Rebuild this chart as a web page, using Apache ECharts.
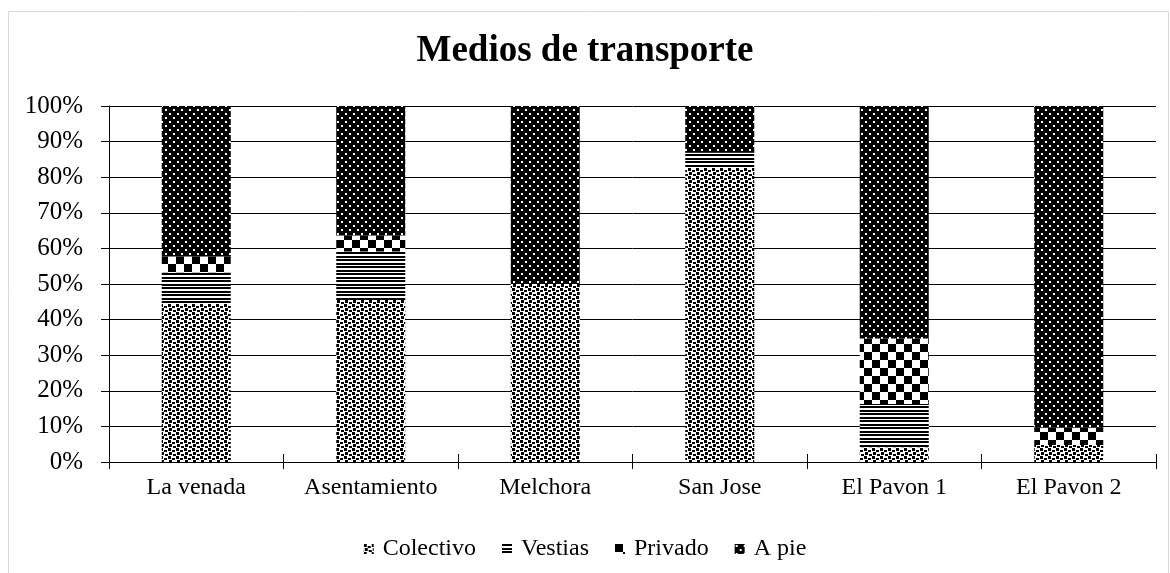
<!DOCTYPE html>
<html>
<head>
<meta charset="utf-8">
<script src="https://cdn.jsdelivr.net/npm/echarts@6/dist/echarts.min.js"></script>
<style>
html,body{margin:0;padding:0;background:#fff;}
#c{width:1170px;height:573px;}
</style>
</head>
<body>
<div id="c"></div>
<script>
const categories = ['La venada', 'Asentamiento', 'Melchora', 'San Jose', 'El Pavon 1', 'El Pavon 2'];
const colectivo = [44.4, 45.5, 50.0, 82.6, 4.1, 4.8];
const vestias   = [8.9, 13.6, 0, 4.3, 12.2, 0];
const privado   = [4.4, 4.5, 0, 0, 18.4, 4.8];
const aPie      = [42.3, 36.4, 50.0, 13.1, 65.3, 90.4];
const seriesNames = ['Colectivo', 'Vestias', 'Privado', 'A pie'];
const yTicks = [0, 10, 20, 30, 40, 50, 60, 70, 80, 90, 100];

function tile(w, h, bg, fg, rects) {
  const c = document.createElement('canvas');
  c.width = w; c.height = h;
  const ctx = c.getContext('2d');
  ctx.fillStyle = bg; ctx.fillRect(0, 0, w, h);
  ctx.fillStyle = fg;
  rects.forEach(r => ctx.fillRect(r[0], r[1], r[2], r[3]));
  return { image: c, repeat: 'repeat' };
}
const patColectivo = tile(8, 8, '#fff', '#000', [[0,0,3,3],[4,2,3,2],[1,4,3,3],[5,6,3,2]]);
const patVestias = tile(8, 7, '#fff', '#000', [[0,0,8,2],[0,4,8,2]]);
const patPrivado = tile(16, 16, '#fff', '#000', [[0,0,8,8],[8,8,8,8]]);
const patAPie = tile(8, 8, '#000', '#fff', [[1,1,2,2],[5,5,2,2]]);
const pats = [patColectivo, patVestias, patPrivado, patAPie];
const datas = [colectivo, vestias, privado, aPie];

const FONT = 'Liberation Serif';
const chart = echarts.init(document.getElementById('c'), null, {renderer: 'canvas'});
chart.setOption({
  backgroundColor: '#fff',
  animation: false,
  graphic: [{
    type: 'rect', left: 6, top: 9, silent: true,
    shape: {width: 1160, height: 620},
    style: {fill: 'none', stroke: '#d9d9d9', lineWidth: 1}
  }],
  title: {
    text: 'Medios de transporte',
    left: 'center', top: 28,
    textStyle: {fontFamily: FONT, fontWeight: 'bold', fontSize: 37, color: '#000'}
  },
  legend: {
    data: seriesNames,
    left: 'center', top: 532,
    icon: 'rect', itemWidth: 10, itemHeight: 10, itemGap: 26,
    textStyle: {fontFamily: FONT, fontSize: 24, color: '#000', padding: [0, 0, 0, 4]}
  },
  grid: {left: 109, right: 14, top: 106, bottom: 111, containLabel: false},
  xAxis: [{
    type: 'category', data: categories,
    axisLine: {lineStyle: {color: '#000', width: 1}},
    axisTick: {show: true, interval: 0, length: 7, lineStyle: {color: '#000'}},
    axisLabel: {interval: 0, hideOverlap: false, fontFamily: FONT, fontSize: 24, color: '#000', margin: 14}
  }, {
    type: 'category', data: categories, position: 'bottom',
    axisLine: {show: false},
    axisTick: {show: true, interval: 0, inside: true, length: 8, lineStyle: {color: '#000'}},
    axisLabel: {show: false}
  }],
  yAxis: {
    type: 'value', min: yTicks[0], max: yTicks[yTicks.length - 1], interval: 10,
    axisLine: {show: true, lineStyle: {color: '#000', width: 1}},
    axisTick: {show: true, length: 8, lineStyle: {color: '#000'}},
    splitLine: {lineStyle: {color: '#000', width: 1}},
    axisLabel: {fontFamily: FONT, fontSize: 25, color: '#000', margin: 26, formatter: '{value}%'}
  },
  series: seriesNames.map((n, i) => ({
    name: n, type: 'bar', stack: 'total', barWidth: 69,
    xAxisIndex: 0,
    data: datas[i],
    itemStyle: {color: pats[i]},
    emphasis: {disabled: true}
  }))
});
</script>
</body>
</html>
